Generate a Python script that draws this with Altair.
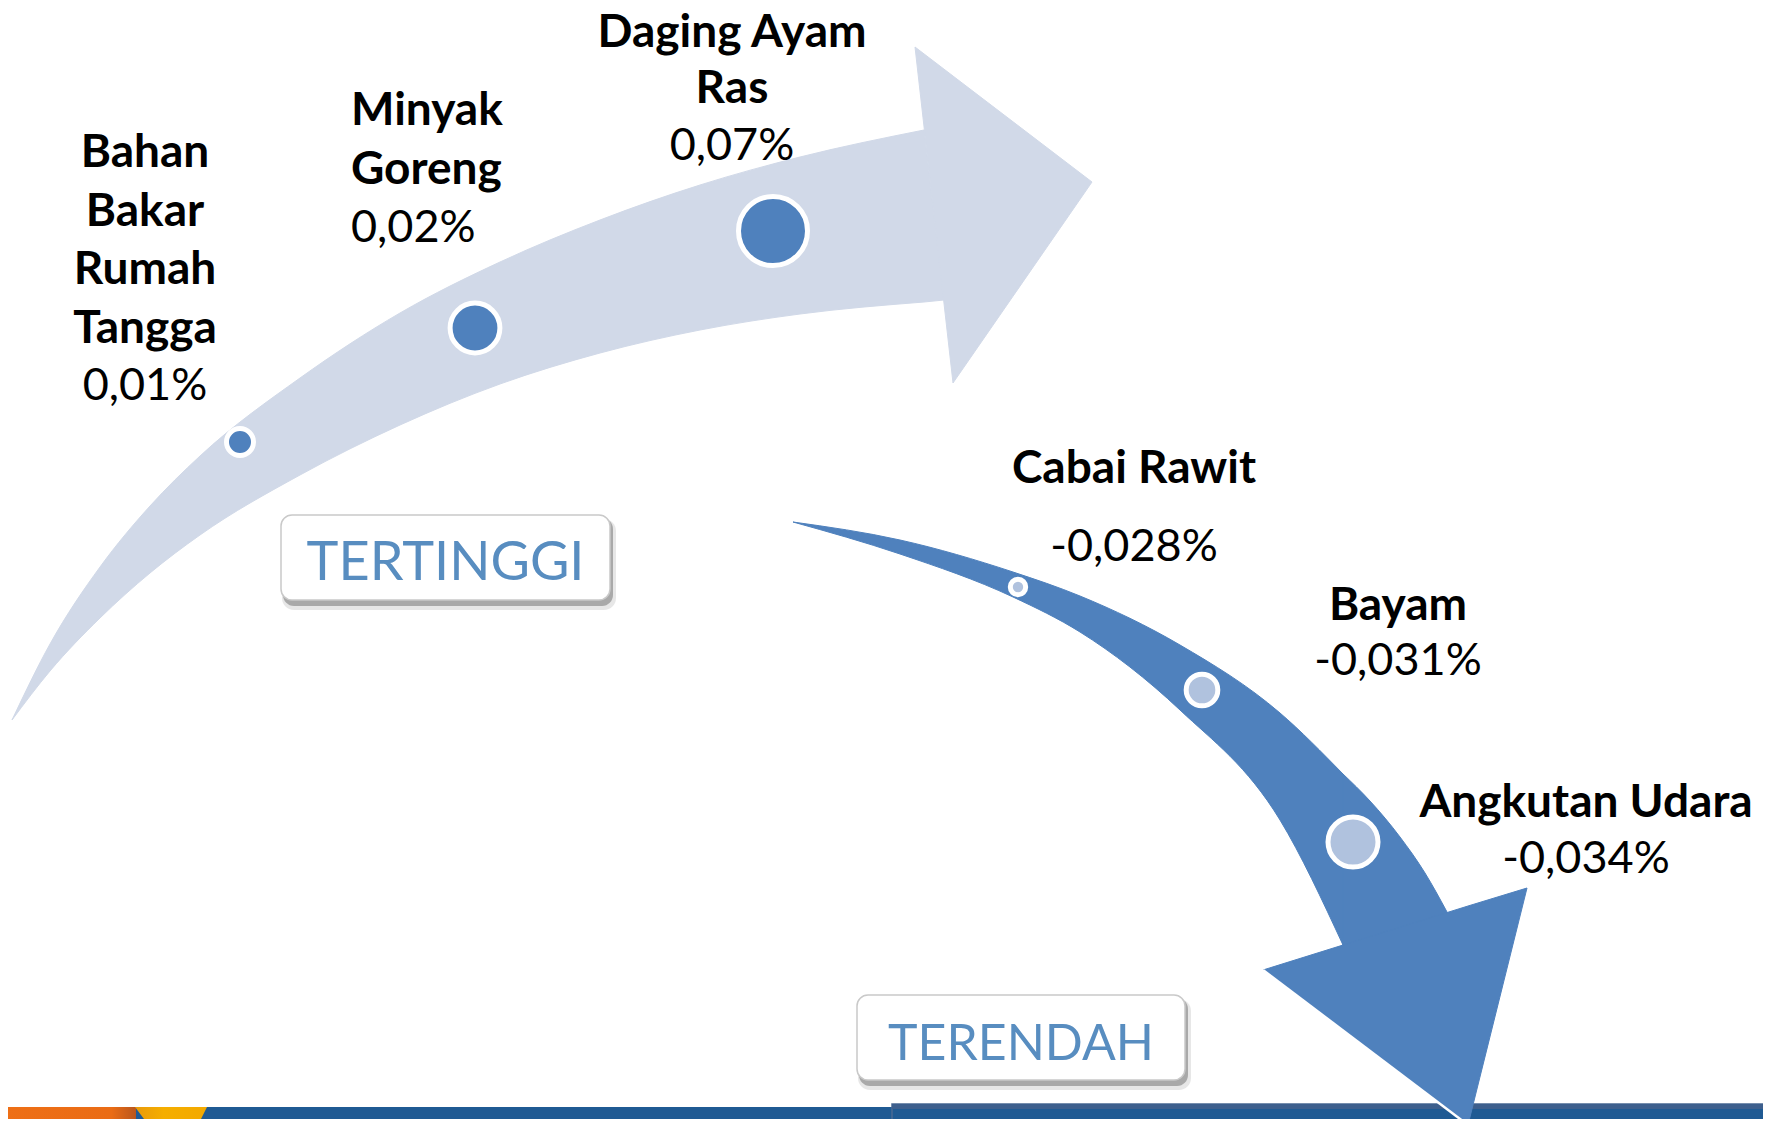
import altair as alt
import pandas as pd

# ---------------- data ----------------
top_items = ["Bahan Bakar Rumah Tangga", "Minyak Goreng", "Daging Ayam Ras"]
top_values = [0.01, 0.02, 0.07]
bottom_items = ["Cabai Rawit", "Bayam", "Angkutan Udara"]
bottom_values = [-0.028, -0.031, -0.034]
group_titles = ["TERTINGGI", "TERENDAH"]

# ---------------- layout (reference pixel space, y grows downward) ----------------
top_wrapped = ["Bahan\nBakar\nRumah\nTangga", "Minyak\nGoreng", "Daging Ayam\nRas"]
bottom_wrapped = ["Cabai Rawit", "Bayam", "Angkutan Udara"]
top_dot_x = [240, 475, 773]
top_dot_y = [442, 328, 231]
bottom_dot_x = [1018, 1202, 1353]
bottom_dot_y = [587, 690, 842]
top_label_x = [145, 351, 732]
top_label_align = ["center", "left", "center"]
top_name_y = [167, 125, 47]
top_value_y = [400, 242, 160]
top_line_height = [58.5, 58.5, 56]
bottom_label_x = [1134, 1398, 1586]
bottom_label_align = ["center", "center", "center"]
bottom_name_y = [483, 620, 817]
bottom_value_y = [561, 675, 873]
box_x = [281, 857]
box_x2 = [610, 1185]
box_y = [515, 995]
box_y2 = [600, 1080]
box_text_y = [580, 1060]
box_font_size = [54, 50]

# arrow outlines (decorative shapes)
light_band_x = [12, 50, 100, 150, 200, 300, 400, 500, 600, 700, 800, 924]
light_band_top = [720, 644, 567, 506, 456, 378, 313, 262, 220, 185, 157, 130]
light_band_bot = [720, 671, 618, 573, 535, 475, 425, 384, 353, 330, 314, 302]
light_neck_x = [924, 944]
light_neck_top = [130, 300]
light_neck_bot = [302, 300]
light_head_x = [915, 953, 1092]
light_head_top = [47, 76, 182]
light_head_bot = [47, 383, 182]

dark_band_x = [793, 900, 1013, 1080, 1180, 1280, 1343]
dark_band_top = [522, 540, 572, 596, 645, 713, 774]
dark_band_bot = [522, 554, 597, 632, 710, 820, 945]
dark_neck_x = [1343, 1370, 1400, 1425, 1447]
dark_neck_top = [774, 801, 837, 873, 912]
dark_neck_bot = [949, 940, 931, 923, 916]
dark_head_x = [1263, 1468, 1527]
dark_head_top = [970, 906, 888]
dark_head_bot = [970, 1125, 888]

# bottom decorative bar
bar_x, bar_x2, bar_y, bar_y2 = [0], [1771], [1107], [1127]
bar_right_x, bar_right_x2, bar_right_y, bar_right_y2 = [892], [1771], [1104], [1127]
strip_y2 = [1109]
orange_x2 = [136]
yellow_x = [135, 150, 197, 207]
yellow_top = [1107, 1107, 1107, 1107]
yellow_bot = [1107, 1127, 1127, 1107]

# ---------------- helpers ----------------
XS = alt.Scale(domain=[8, 1763], nice=False, zero=False)
YS = alt.Scale(domain=[8, 1119], nice=False, zero=False, reverse=True)


def X(f):
    return alt.X(f, type="quantitative", scale=XS, axis=None)


def Y(f):
    return alt.Y(f, type="quantitative", scale=YS, axis=None)


def fmt(v, d):
    return f"{v:.{d}f}".replace(".", ",") + "%"


def band(xs, tops, bots, color, interp):
    df = pd.DataFrame({"x": xs, "top": tops, "bot": bots})
    return alt.Chart(df).mark_area(color=color, stroke=color, strokeWidth=1,
                                   interpolate=interp, opacity=1).encode(
        x=X("x"), y=Y("top"), y2=alt.Y2("bot")
    )


def rect(xs, x2s, ys, y2s, **kw):
    df = pd.DataFrame({"x": xs, "x2": x2s, "y": ys, "y2": y2s})
    return alt.Chart(df).mark_rect(**kw).encode(
        x=X("x"), x2=alt.X2("x2"), y=Y("y"), y2=alt.Y2("y2")
    )


LIGHT = "#D1D9E8"
DARK = "#4F81BD"
FONT = "Lato"

# ---------------- bottom bar ----------------
bar = rect(bar_x, bar_x2, bar_y, bar_y2, color="#1F5A93")
bar_right = rect(bar_right_x, bar_right_x2, bar_right_y, bar_right_y2, color="#1F5A93",
                 stroke="#4A6A94", strokeWidth=1.5)
strip = rect(bar_right_x, bar_right_x2, bar_right_y, strip_y2, color="#3D5F8D")
orange = rect(bar_x, orange_x2, bar_y, bar_y2, color=alt.Gradient(
    gradient="linear", x1=0, x2=1, y1=0, y2=0,
    stops=[alt.GradientStop(color="#EE6F16", offset=0),
           alt.GradientStop(color="#EA6C15", offset=0.82),
           alt.GradientStop(color="#B9561C", offset=1)]))
yellow_df = pd.DataFrame({"x": yellow_x, "top": yellow_top, "bot": yellow_bot})
yellow = alt.Chart(yellow_df).mark_area(interpolate="linear", color=alt.Gradient(
    gradient="linear", x1=0, x2=1, y1=0, y2=0,
    stops=[alt.GradientStop(color="#E99A0A", offset=0),
           alt.GradientStop(color="#F5AE00", offset=0.4),
           alt.GradientStop(color="#F3A900", offset=1)])).encode(
    x=X("x"), y=Y("top"), y2=alt.Y2("bot"))

# ---------------- arrows ----------------
light_arrow = [
    band(light_band_x, light_band_top, light_band_bot, LIGHT, "monotone"),
    band(light_neck_x, light_neck_top, light_neck_bot, LIGHT, "linear"),
    band(light_head_x, light_head_top, light_head_bot, LIGHT, "linear"),
]
dark_arrow = [
    band(dark_band_x, dark_band_top, dark_band_bot, DARK, "monotone"),
    band(dark_neck_x, dark_neck_top, dark_neck_bot, DARK, "monotone"),
    band(dark_head_x, dark_head_top, dark_head_bot, DARK, "linear"),
]
edge_df = pd.DataFrame({"x": [dark_head_x[0]], "y": [dark_head_top[0]],
                        "x2": [dark_head_x[1]], "y2": [dark_head_bot[1]]})
tip_edge = alt.Chart(edge_df).mark_rule(color="white", strokeWidth=2.5).encode(
    x=X("x"), y=Y("y"), x2=alt.X2("x2"), y2=alt.Y2("y2"))

# ---------------- dots ----------------
top_df = pd.DataFrame({"item": top_items, "value": top_values,
                       "x": top_dot_x, "y": top_dot_y})
top_df["rank"] = top_df["value"].abs().rank().astype(int)
bot_df = pd.DataFrame({"item": bottom_items, "value": bottom_values,
                       "x": bottom_dot_x, "y": bottom_dot_y})
bot_df["rank"] = bot_df["value"].abs().rank().astype(int)

top_dots = alt.Chart(top_df).mark_circle(opacity=1, color=DARK, stroke="white",
                                         strokeWidth=5).encode(
    x=X("x"), y=Y("y"),
    size=alt.Size("rank:Q", scale=alt.Scale(domain=[1, 2, 3], range=[729, 2480, 4761]),
                  legend=None))
bot_dots = alt.Chart(bot_df).mark_circle(opacity=1, color="#B0C2DE", stroke="white",
                                         strokeWidth=5).encode(
    x=X("xb"), y=Y("yb"),
    size=alt.Size("rankb:Q", scale=alt.Scale(domain=[1, 2, 3], range=[237, 1000, 2500]),
                  legend=None)).transform_calculate(
    xb="datum.x", yb="datum.y", rankb="datum.rank")

# ---------------- labels ----------------
labels = pd.DataFrame({
    "name": top_wrapped + bottom_wrapped,
    "value": [fmt(v, 2) for v in top_values] + [fmt(v, 3) for v in bottom_values],
    "x": top_label_x + bottom_label_x,
    "ny": top_name_y + bottom_name_y,
    "vy": top_value_y + bottom_value_y,
    "lh": top_line_height + [58.5, 58.5, 58.5],
    "align": top_label_align + bottom_label_align,
})

text_layers = []
for al in ["center", "left"]:
    sub = labels[labels["align"] == al]
    for lh in sorted(sub["lh"].unique()):
        sub2 = sub[sub["lh"] == lh]
        text_layers.append(alt.Chart(sub2).mark_text(
            font=FONT, fontSize=46, fontWeight="bold", color="black", align=al,
            baseline="alphabetic", lineBreak="\n", lineHeight=float(lh)).encode(
            x=X("x"), y=Y("ny"), text="name:N"))
    text_layers.append(alt.Chart(sub).mark_text(
        font=FONT, fontSize=45, fontWeight="normal", color="black", align=al,
        baseline="alphabetic").encode(
        x=X("x"), y=Y("vy"), text="value:N"))

# ---------------- boxes ----------------
box_df = pd.DataFrame({"title": group_titles, "x": box_x, "x2": box_x2,
                       "y": box_y, "y2": box_y2, "ty": box_text_y})
box_df["cx"] = (box_df["x"] + box_df["x2"]) / 2
shadow_soft = alt.Chart(box_df).transform_calculate(
    sx="datum.x + 1", sx2="datum.x2 + 6", sy="datum.y + 4", sy2="datum.y2 + 10"
).mark_rect(color="#C4C4C4", opacity=0.4, cornerRadius=12).encode(
    x=X("sx"), x2=alt.X2("sx2"), y=Y("sy"), y2=alt.Y2("sy2"))
shadow = alt.Chart(box_df).transform_calculate(
    sx="datum.x + 2", sx2="datum.x2 + 3", sy="datum.y + 3", sy2="datum.y2 + 6"
).mark_rect(color="#8E8E8E", opacity=0.7, cornerRadius=11).encode(
    x=X("sx"), x2=alt.X2("sx2"), y=Y("sy"), y2=alt.Y2("sy2"))
boxes = alt.Chart(box_df).mark_rect(
    color="white", stroke="#C9C9C9", strokeWidth=1.5, cornerRadius=11).encode(
    x=X("x"), x2=alt.X2("x2"), y=Y("y"), y2=alt.Y2("y2"))
box_texts = []
for i, title in enumerate(group_titles):
    box_texts.append(alt.Chart(box_df[box_df["title"] == title]).mark_text(
        font=FONT, fontSize=box_font_size[i], color="#588DC0", align="center",
        baseline="alphabetic").encode(
        x=X("cx"), y=Y("ty"), text="title:N"))

chart = alt.layer(
    bar, bar_right, strip, orange, yellow,
    *light_arrow, *dark_arrow, tip_edge,
    top_dots, bot_dots,
    shadow_soft, shadow, boxes, *box_texts,
    *text_layers,
).resolve_scale(size="independent").properties(
    width=1755, height=1111, padding=0,
    autosize=alt.AutoSizeParams(type="none"),
    background="white",
).configure_view(stroke=None)

chart.save("out.html", embed_options={"renderer": "svg", "actions": False})
